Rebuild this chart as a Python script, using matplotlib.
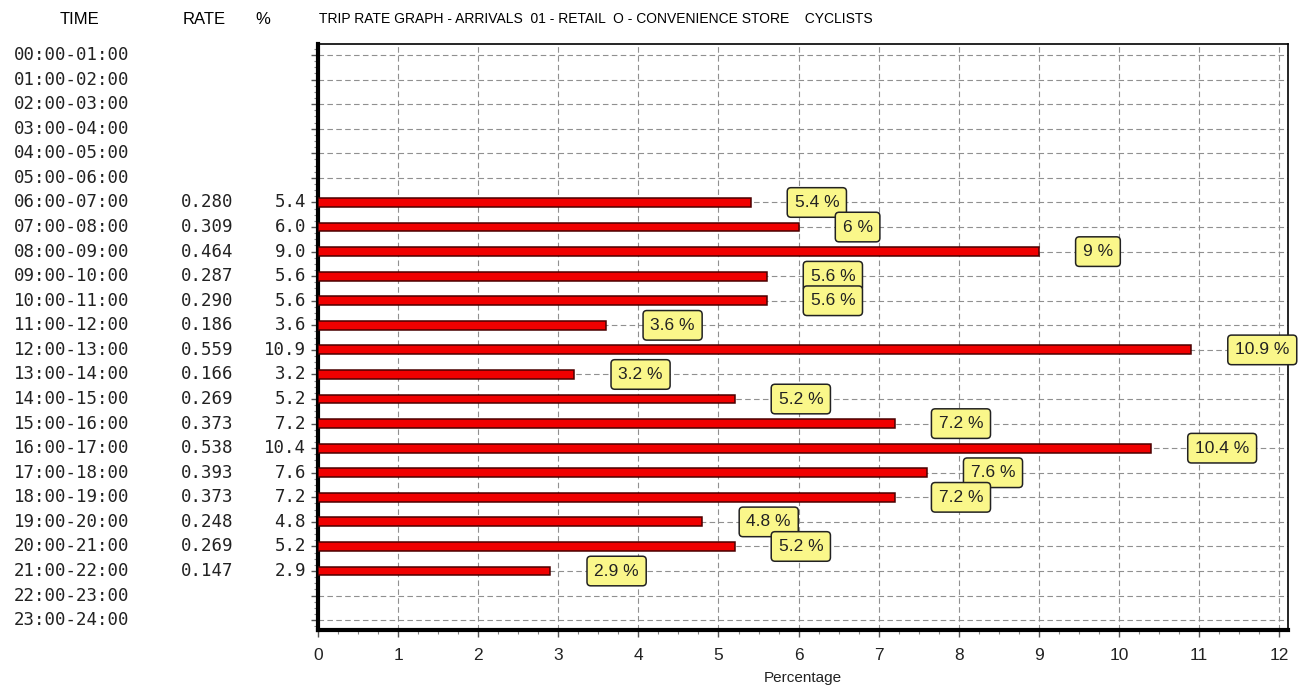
import matplotlib
matplotlib.use('Agg')
import matplotlib.pyplot as plt
import matplotlib.transforms as mtransforms
from matplotlib.ticker import MultipleLocator

# data
hours = ['%02d:00-%02d:00' % (h, h + 1) for h in range(24)]
rates = [None, None, None, None, None, None,
         0.280, 0.309, 0.464, 0.287, 0.290, 0.186, 0.559, 0.166,
         0.269, 0.373, 0.538, 0.393, 0.373, 0.248, 0.269, 0.147,
         None, None]
pcts = [None, None, None, None, None, None,
        5.4, 6.0, 9.0, 5.6, 5.6, 3.6, 10.9, 3.2,
        5.2, 7.2, 10.4, 7.6, 7.2, 4.8, 5.2, 2.9,
        None, None]
title = 'TRIP RATE GRAPH - ARRIVALS  01 - RETAIL  O - CONVENIENCE STORE    CYCLISTS'

mono = 'DejaVu Sans Mono'
sans = 'Liberation Sans'


def main():
    fig = plt.figure(figsize=(13, 6.89), dpi=100)
    ax = fig.add_axes([318 / 1300, 1 - 630 / 689, 970 / 1300, 586 / 689])

    rows = list(range(24))
    bar_rows = [i for i in rows if pcts[i] is not None]
    bar_vals = [pcts[i] for i in bar_rows]

    ax.barh(bar_rows, bar_vals, height=0.36, color='#f00000',
            edgecolor='#4a0000', linewidth=1.1, zorder=3)

    ax.set_xlim(0, 12.11)
    ax.set_ylim(23.4, -0.45)

    # grid
    ax.set_yticks(rows)
    ax.set_yticklabels([])
    ax.yaxis.set_minor_locator(MultipleLocator(0.25))
    ax.set_xticks(range(13))
    ax.xaxis.set_minor_locator(MultipleLocator(0.25))
    ax.grid(True, which='major', linestyle=(0, (5, 3)), color='#909090', linewidth=0.8, zorder=0)
    ax.tick_params(axis='both', which='major', direction='out', length=5, width=1, color='#555555')
    ax.tick_params(axis='both', which='minor', direction='out', length=3, width=0.8, color='#888888')
    ax.tick_params(axis='x', labelsize=12.5, pad=8)
    for lab in ax.get_xticklabels():
        lab.set_family(sans)
        lab.set_color('#222222')

    for side in ['left', 'bottom']:
        ax.spines[side].set_linewidth(3)
    for side in ['top', 'right']:
        ax.spines[side].set_linewidth(1.2)

    ax.set_xlabel('Percentage', family=sans, fontsize=11, labelpad=6, color='#222222')

    # value boxes
    for i in bar_rows:
        v = pcts[i]
        ax.annotate('%g %%' % v, xy=(v, i), xytext=(44, 0), textcoords='offset pixels',
                    ha='left', va='center', family=sans, fontsize=12.5, color='#222222',
                    bbox=dict(boxstyle='round,pad=0.42,rounding_size=0.22',
                              fc='#faf78a', ec='#222222', lw=1.1),
                    annotation_clip=False, zorder=5)

    # left table
    trans = mtransforms.blended_transform_factory(fig.transFigure, ax.transData)
    for i in rows:
        fig.text(14 / 1300, i, hours[i], transform=trans, ha='left', va='center',
                 family=mono, fontsize=12.5, color='#222222')
        if rates[i] is not None:
            fig.text(233 / 1300, i, '%.3f' % rates[i], transform=trans, ha='right',
                     va='center', family=mono, fontsize=12.5, color='#222222')
            fig.text(306 / 1300, i, '%.1f' % pcts[i], transform=trans, ha='right',
                     va='center', family=mono, fontsize=12.5, color='#222222')

    # header
    hy = 1 - 19 / 689
    fig.text(80 / 1300, hy, 'TIME', ha='center', va='center', family=sans, fontsize=12)
    fig.text(204 / 1300, hy, 'RATE', ha='center', va='center', family=sans, fontsize=12)
    fig.text(263 / 1300, hy, '%', ha='center', va='center', family=sans, fontsize=12)
    fig.text(319 / 1300, hy, title, ha='left', va='center', family=sans, fontsize=10)

    fig.savefig('out.png', dpi=100)


if __name__ == '__main__':
    main()
